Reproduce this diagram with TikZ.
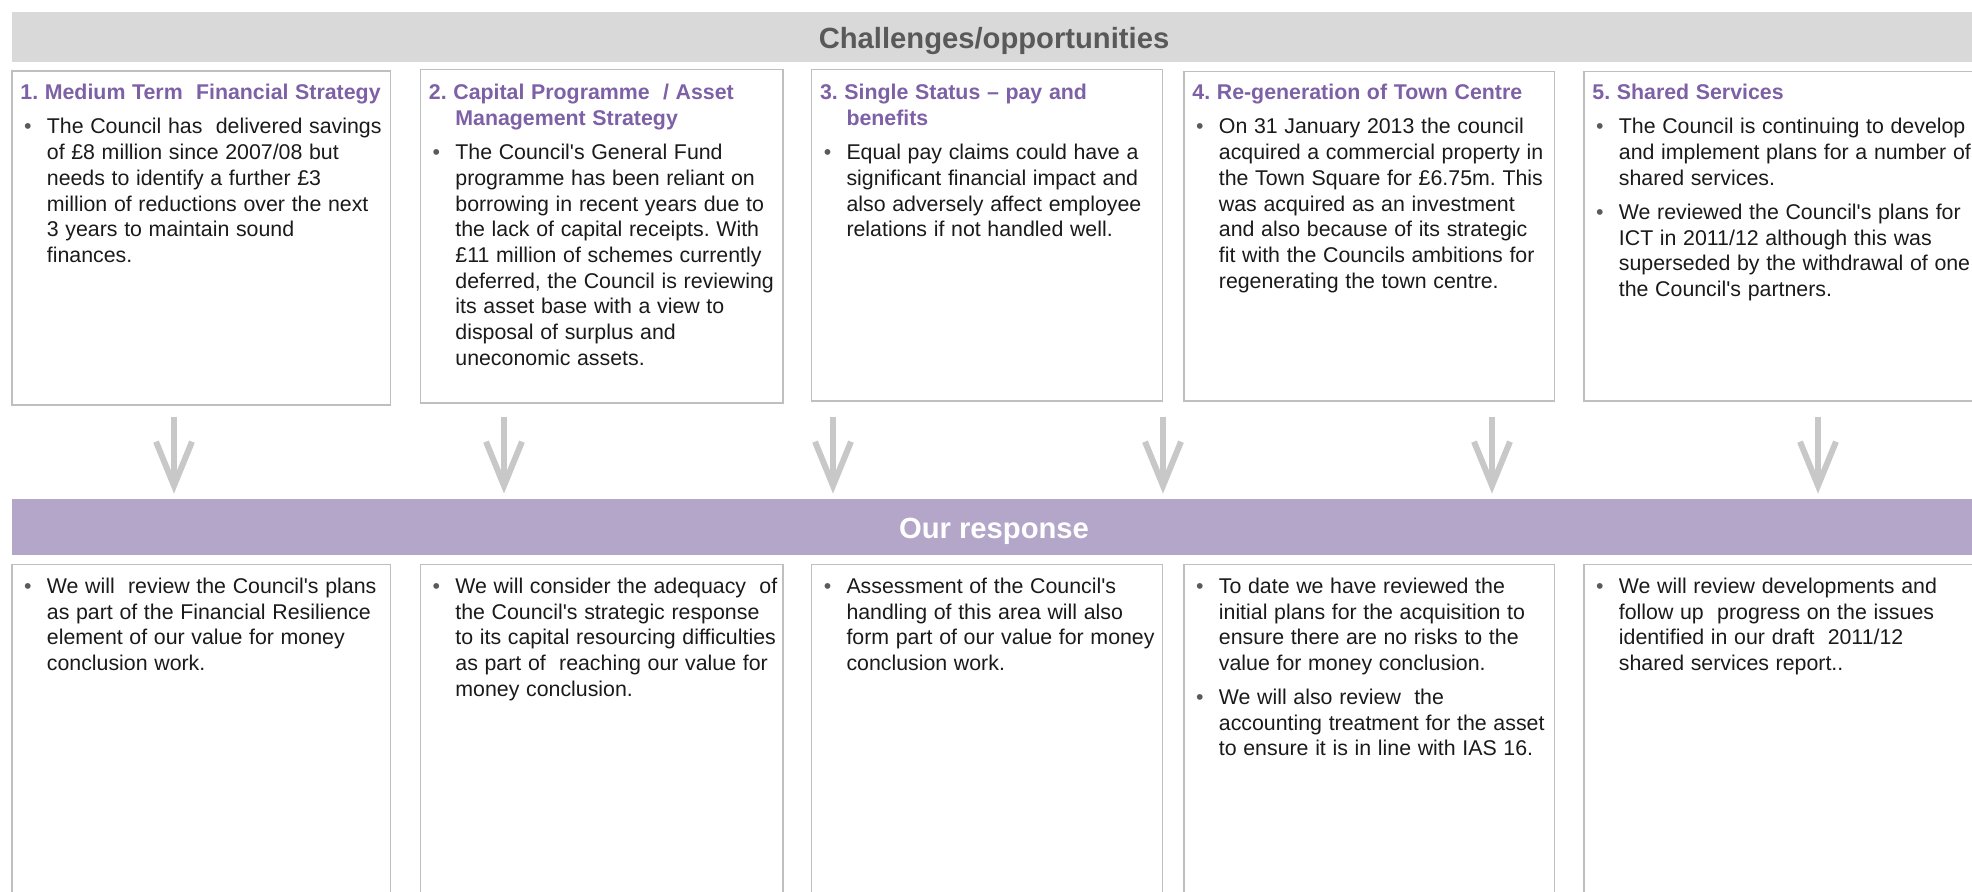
\documentclass[tikz,border=0pt]{standalone}
\usepackage{fontspec}
\setmainfont{Liberation Sans}[Ligatures=TeXOff]
\usepackage{xcolor}
\usetikzlibrary{positioning, arrows.meta, fit}

\definecolor{barGrey}{RGB}{217,217,217}
\definecolor{barPurple}{RGB}{179,166,201}
\definecolor{headPurple}{RGB}{125,96,166}
\definecolor{titleGrey}{RGB}{89,89,89}
\definecolor{lineGrey}{RGB}{191,191,191}
\definecolor{arrowGrey}{RGB}{200,200,200}
\definecolor{dotGrey}{RGB}{90,90,90}
\definecolor{bodyText}{RGB}{26,26,26}

\newcommand{\bodyfont}{\fontsize{10.67pt}{12.85pt}\selectfont\setlength{\parskip}{4.15pt}\raggedright\frenchspacing}
\newcommand{\hd}[1]{\hangindent=13.25pt\hangafter=1\noindent{\color{headPurple}\bfseries #1}\par}
\newcommand{\itm}{\hangindent=13.25pt\hangafter=0\noindent\llap{\textcolor{dotGrey}{\textbullet}\hspace{7.63pt}}}

\begin{document}
\begin{tikzpicture}[x=0.5pt,y=0.5pt,yscale=-1,
	cbox/.style={draw=lineGrey, line width=0.75pt, inner sep=0pt},
	bar/.style={inner sep=0pt, draw=none},
	bartext/.style={anchor=base, inner sep=0pt, font=\fontsize{14.6pt}{17pt}\selectfont\bfseries},
	txt/.style={anchor=base west, inner sep=0pt, text width=200pt, text=bodyText, execute at begin node=\bodyfont},
	darrow/.style={draw=arrowGrey, line width=3pt, shorten >=2.5pt, -{Straight Barb[length=22pt,width=18pt]}}]
	\useasboundingbox (0,0) rectangle (1972,892);
	\clip (0,0) rectangle (1972,892);
	
	%Shape: Rectangle [banners]
	\node[bar, fill=barGrey, fit={(12,11.7) (1976,61.7)}] (chal) {};
	\node[bar, fill=barPurple, fit={(12,499) (1976,555)}] (resp) {};
	% Text Node
	\node[bartext, text=titleGrey] (chalt) at (994,48.3) {Challenges/opportunities};
	% Text Node
	\node[bartext, text=white] (respt) at (994,538.3) {Our response};
	
	%Shape: Rectangle [top boxes]
	\node[cbox, fit={(12,71) (390.6,405)}] (c1) {};
	\node[cbox, fit={(420.5,69.7) (783,403)}] (c2) {};
	\node[cbox, fit={(811.6,69.7) (1162.5,401)}] (c3) {};
	\node[cbox, fit={(1184,71.7) (1554.6,401)}] (c4) {};
	\node[cbox, fit={(1584,71.7) (1976,401)}] (c5) {};
	%Shape: Rectangle [bottom boxes]
	\node[cbox, fit={(12,564.3) (390.6,900)}] (r1) {};
	\node[cbox, fit={(420.5,564.3) (783,900)}] (r2) {};
	\node[cbox, fit={(811.6,564.3) (1162.5,900)}] (r3) {};
	\node[cbox, fit={(1184,564.3) (1554.6,900)}] (r4) {};
	\node[cbox, fit={(1584,564.3) (1976,900)}] (r5) {};
	
	%Straight Lines
	\foreach \ax [count=\i] in {174,504,833,1163,1492,1818} {
		\coordinate (a\i) at (\ax,417);
		\draw[darrow] (a\i) -- (a\i |- resp.north);
	}
	
	% Text Node
	\node[txt] (t1) at (20,100) {\hd{1. Medium Term\ \ Financial Strategy}
		\itm The Council has\ \ delivered savings\newline of £8 million since 2007/08 but\newline needs to identify a further £3\newline million of reductions over the next\newline 3 years to maintain sound\newline finances.\par};
	% Text Node
	\node[txt] (t2) at (428.5,100) {\hd{2. Capital Programme\ \ / Asset\newline Management Strategy}
		\itm The Council's General Fund\newline programme has been reliant on\newline borrowing in recent years due to\newline the lack of capital receipts. With\newline £11 million of schemes currently\newline deferred, the Council is reviewing\newline its asset base with a view to\newline disposal of surplus and\newline uneconomic assets.\par};
	% Text Node
	\node[txt] (t3) at (819.6,100) {\hd{3. Single Status – pay and\newline benefits}
		\itm Equal pay claims could have a\newline significant financial impact and\newline also adversely affect employee\newline relations if not handled well.\par};
	% Text Node
	\node[txt] (t4) at (1192,100) {\hd{4. Re-generation of Town Centre}
		\itm On 31 January 2013 the council\newline acquired a commercial property in\newline the Town Square for £6.75m. This\newline was acquired as an investment\newline and also because of its strategic\newline fit with the Councils ambitions for\newline regenerating the town centre.\par};
	% Text Node
	\node[txt] (t5) at (1592,100) {\hd{5. Shared Services}
		\itm The Council is continuing to develop\newline and implement plans for a number of\newline shared services.\par
		\itm We reviewed the Council's plans for\newline ICT in 2011/12 although this was\newline superseded by the withdrawal of one\newline the Council's partners.\par};
	
	% Text Node
	\node[txt] (s1) at (20,593.5) {\itm We will\ \ review the Council's plans\newline as part of the Financial Resilience\newline element of our value for money\newline conclusion work.\par};
	% Text Node
	\node[txt] (s2) at (428.5,593.5) {\itm We will consider the adequacy\ \ of\newline the Council's strategic response\newline to its capital resourcing difficulties\newline as part of\ \ reaching our value for\newline money conclusion.\par};
	% Text Node
	\node[txt] (s3) at (819.6,593.5) {\itm Assessment of the Council's\newline handling of this area will also\newline form part of our value for money\newline conclusion work.\par};
	% Text Node
	\node[txt] (s4) at (1192,593.5) {\itm To date we have reviewed the\newline initial plans for the acquisition to\newline ensure there are no risks to the\newline value for money conclusion.\par
		\itm We will also review\ \ the\newline accounting treatment for the asset\newline to ensure it is in line with IAS 16.\par};
	% Text Node
	\node[txt] (s5) at (1592,593.5) {\itm We will review developments and\newline follow up\ \ progress on the issues\newline identified in our draft\ \ 2011/12\newline shared services report..\par};
\end{tikzpicture}
\end{document}
